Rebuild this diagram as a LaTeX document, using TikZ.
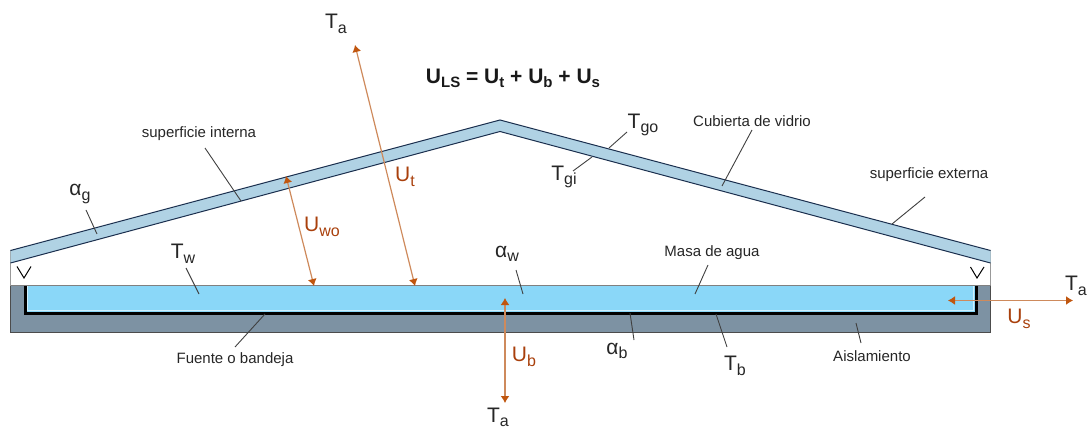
\documentclass[tikz,border=0pt]{standalone}
\usepackage{fontspec}
\setmainfont{Liberation Sans}
\usetikzlibrary{arrows.meta}

\definecolor{glassblue}{HTML}{B0D2E4}
\definecolor{glassedge}{HTML}{1B2F4E}
\definecolor{waterblue}{HTML}{8AD7F8}
\definecolor{insulgray}{HTML}{7D92A3}
\definecolor{heatline}{HTML}{CE8A5C}
\definecolor{heattip}{HTML}{C0560F}
\definecolor{heattext}{HTML}{A9400C}
\definecolor{leaderline}{HTML}{404040}

\newcommand{\symb}[2]{{\fontsize{21}{21}\selectfont #1\raisebox{-4.5pt}{\fontsize{16}{16}\selectfont #2}}}
\newcommand{\eqsymb}[2]{#1\raisebox{-4pt}{\fontsize{15}{15}\selectfont #2}}

\tikzset{
    leader/.style={color=leaderline, line width=0.9pt},
    flux/.style={color=heatline, line width=1.2pt, {Latex[length=7pt,width=9pt,color=heattip]}-{Latex[length=7pt,width=9pt,color=heattip]}},
    smalltext/.style={color=black!85, font=\fontsize{15}{15}\selectfont, inner sep=0pt},
    symbol/.style={color=black!85, inner sep=0pt},
    heatlabel/.style={color=heattext, inner sep=0pt},
    seat/.style={color=black, line width=1pt},
}

\begin{document}
\begin{tikzpicture}[x=1pt, y=-1pt]
    \useasboundingbox (0,0) rectangle (1089,430);
    %%% Basin
    \draw[color=black!40, line width=1pt] (10.5,250) -- (10.5,286);
    \draw[color=black!40, line width=1pt] (990.5,250) -- (990.5,286);
    \fill[color=insulgray] (10.5,285.5) rectangle (990.5,332);
    \draw[color=black!70, line width=1pt] (10.5,285.5) -- (10.5,332) -- (990.5,332) -- (990.5,285.5);
    \fill[color=waterblue] (25,285.5) rectangle (976,312.5);
    \draw[color=white!60!waterblue, line width=1.2pt] (27.5,286) -- (27.5,310.5) -- (973.5,310.5) -- (973.5,286);
    \draw[color=black, line width=3pt, line join=miter] (25,285.5) -- (25,313) -- (976,313) -- (976,285.5);
    \draw[color=black!50, line width=1.2pt] (10.5,285.5) -- (990.5,285.5);
    %
    %%% Glass cover
    \fill[color=glassblue] (10.5,250.5) -- (500,120) -- (990.5,250.5) -- (990.5,263) -- (500,131.5) -- (10.5,263) -- cycle;
    \draw[color=glassedge, line width=1pt] (10.5,263) -- (500,131.5) -- (990.5,263);
    \draw[color=glassedge, line width=1pt] (10.5,250.5) -- (500,120) -- (990.5,250.5);
    %
    %%% Seats
    \draw[seat] (17,266.5) -- (24,278) -- (31,266.5);
    \draw[seat] (970.5,267) -- (977,278) -- (984,267);
    %
    %%% Fluxes
    \draw[flux] (355,45) -- (415,286);
    \draw[flux] (286,176) -- (314,286);
    \draw[flux] (505,298) -- (505,403);
    \draw[flux] (948,300.5) -- (1073,300.5);
    %
    %%% Leaders
    \draw[leader] (205,148) -- (241,201);
    \draw[leader] (86,210) -- (97,234);
    \draw[leader] (186,268) -- (199,294);
    \draw[leader] (235,347) -- (265,314);
    \draw[leader] (516,270) -- (523,294);
    \draw[leader] (708,265) -- (695,294);
    \draw[leader] (627,132) -- (609,148);
    \draw[leader] (573,171) -- (592,157);
    \draw[leader] (752,130) -- (722,186);
    \draw[leader] (925,197) -- (892,224);
    \draw[leader] (630,313) -- (634,340);
    \draw[leader] (716,314) -- (727,347);
    \draw[leader] (856,323) -- (861,343);
    %
    %%% Labels
    \node[inner sep=0pt, font=\fontsize{21}{21}\selectfont\bfseries, color=black!90] (eqULS) at (513,78) {\eqsymb{U}{LS} = \eqsymb{U}{t} + \eqsymb{U}{b} + \eqsymb{U}{s}};
    \node[symbol] (taTop) at (336,24) {\symb{T}{a}};
    \node[symbol] (taRight) at (1076,286) {\symb{T}{a}};
    \node[symbol] (taBottom) at (498,417.5) {\symb{T}{a}};
    \node[symbol] (tgo) at (643,125) {\symb{T}{go}};
    \node[symbol] (tgi) at (564,177) {\symb{T}{gi}};
    \node[symbol] (tw) at (183,254) {\symb{T}{w}};
    \node[symbol] (tb) at (735,366) {\symb{T}{b}};
    \node[symbol] (alphaG) at (80,194) {\symb{α}{g}};
    \node[symbol] (alphaW) at (507,254) {\symb{α}{w}};
    \node[symbol] (alphaB) at (617,351) {\symb{α}{b}};
    \node[heatlabel] (ut) at (405,177) {\symb{U}{t}};
    \node[heatlabel] (uwo) at (322,227) {\symb{U}{wo}};
    \node[heatlabel] (ub) at (524,357) {\symb{U}{b}};
    \node[heatlabel] (us) at (1019,319) {\symb{U}{s}};
    \node[smalltext] (supInt) at (199,134) {superficie interna};
    \node[smalltext] (cubierta) at (752,121) {Cubierta de vidrio};
    \node[smalltext] (supExt) at (929,175) {superficie externa};
    \node[smalltext] (masa) at (712,253) {Masa de agua};
    \node[smalltext] (fuente) at (235,360) {Fuente o bandeja};
    \node[smalltext] (aisla) at (872,356) {Aislamiento};
\end{tikzpicture}
\end{document}
